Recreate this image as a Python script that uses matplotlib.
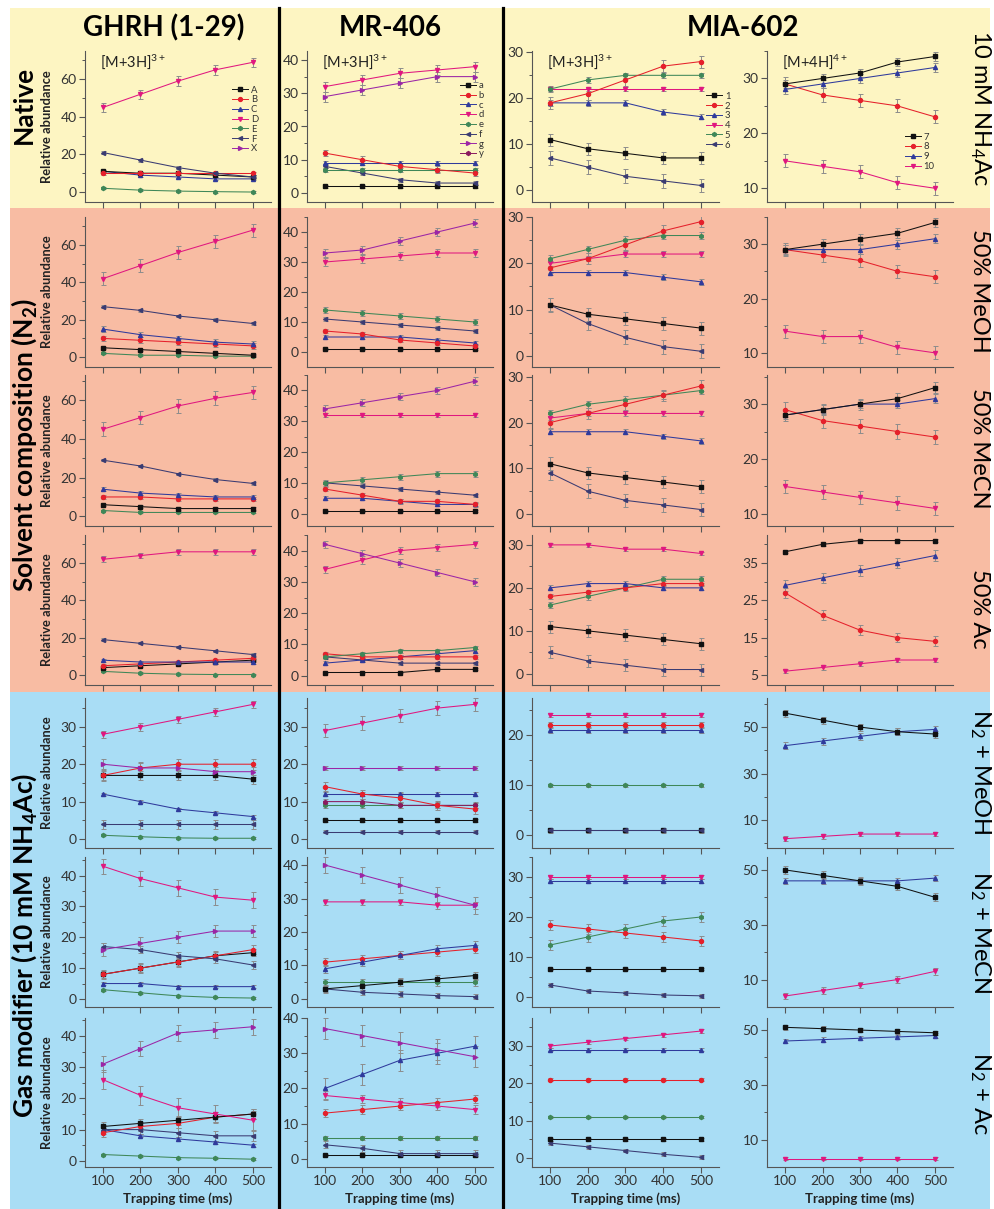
import matplotlib
matplotlib.use("Agg")
import numpy as np
import matplotlib.pyplot as plt
from matplotlib.patches import Rectangle
from matplotlib.lines import Line2D

plt.rcParams['font.family'] = ['Lato', 'DejaVu Sans']
plt.rcParams['mathtext.default'] = 'regular'

TIME_MS = [100, 200, 300, 400, 500]

# each entry: label -> (values at 100..500 ms, error bar half-width)
# ---- row 0: native (10 mM NH4Ac)
ghrh_native = {
    "E": ([2, 1, 0.5, 0.2, 0], 0.5),
    "C": ([11, 9, 8, 7, 7], 0.8),
    "A": ([11, 10, 10, 9, 8], 0.8),
    "B": ([10, 10, 10, 10, 10], 0.8),
    "F": ([21, 17, 13, 10, 8], 0.8),
    "D": ([45, 52, 59, 65, 69], 2.5),
}
mr_native = {
    "a": ([2, 2, 2, 2, 2], 0.4),
    "f": ([8, 6, 4, 3, 3], 0.6),
    "e": ([7, 7, 7, 7, 7], 0.6),
    "c": ([9, 9, 9, 9, 9], 0.6),
    "b": ([12, 10, 8, 7, 6], 1.0),
    "g": ([29, 31, 33, 35, 35], 1.5),
    "d": ([32, 34, 36, 37, 38], 1.5),
}
mia3_native = {
    "6": ([7, 5, 3, 2, 1], 1.5),
    "1": ([11, 9, 8, 7, 7], 1.3),
    "3": ([19, 19, 19, 17, 16], 0.6),
    "4": ([22, 22, 22, 22, 22], 0.5),
    "5": ([22, 24, 25, 25, 25], 0.6),
    "2": ([19, 21, 24, 27, 28], 1.3),
}
mia4_native = {
    "10": ([15, 14, 13, 11, 10], 1.2),
    "8": ([29, 27, 26, 25, 23], 1.2),
    "9": ([28, 29, 30, 31, 32], 0.8),
    "7": ([29, 30, 31, 33, 34], 0.8),
}
# ---- row 1: 50% MeOH
ghrh_meoh = {
    "E": ([2, 1, 1, 0.5, 0.5], 0.6),
    "A": ([5, 4, 3, 2, 1], 0.6),
    "B": ([10, 9, 8, 7, 6], 1.5),
    "C": ([15, 12, 10, 8, 7], 1.5),
    "F": ([27, 25, 22, 20, 18], 0.8),
    "D": ([42, 49, 56, 62, 68], 3.5),
}
mr_meoh = {
    "a": ([1, 1, 1, 1, 1], 0.3),
    "c": ([5, 5, 5, 4, 3], 0.8),
    "b": ([7, 6, 4, 3, 2], 0.8),
    "f": ([11, 10, 9, 8, 7], 0.6),
    "e": ([14, 13, 12, 11, 10], 1.0),
    "d": ([30, 31, 32, 33, 33], 1.2),
    "g": ([33, 34, 37, 40, 43], 1.2),
}
mia3_meoh = {
    "6": ([11, 7, 4, 2, 1], 1.5),
    "1": ([11, 9, 8, 7, 6], 1.4),
    "3": ([18, 18, 18, 17, 16], 0.6),
    "4": ([20, 21, 22, 22, 22], 0.6),
    "5": ([21, 23, 25, 26, 26], 0.8),
    "2": ([19, 21, 24, 27, 29], 1.2),
}
mia4_meoh = {
    "10": ([14, 13, 13, 11, 10], 1.2),
    "8": ([29, 28, 27, 25, 24], 1.2),
    "9": ([29, 29, 29, 30, 31], 0.8),
    "7": ([29, 30, 31, 32, 34], 0.9),
}
# ---- row 2: 50% MeCN
ghrh_mecn = {
    "E": ([3, 2, 2, 2, 2], 0.5),
    "A": ([6, 5, 4, 4, 4], 0.6),
    "B": ([10, 10, 9, 9, 9], 1.0),
    "C": ([14, 12, 11, 10, 10], 1.0),
    "F": ([29, 26, 22, 19, 17], 0.6),
    "D": ([45, 51, 57, 61, 64], 3.5),
}
mr_mecn = {
    "a": ([1, 1, 1, 1, 1], 0.3),
    "c": ([5, 5, 4, 3, 3], 0.6),
    "b": ([8, 6, 4, 4, 3], 0.8),
    "f": ([10, 9, 8, 7, 6], 0.5),
    "e": ([10, 11, 12, 13, 13], 1.0),
    "d": ([32, 32, 32, 32, 32], 0.6),
    "g": ([34, 36, 38, 40, 43], 1.2),
}
mia3_mecn = {
    "6": ([9, 5, 3, 2, 1], 1.5),
    "1": ([11, 9, 8, 7, 6], 1.4),
    "3": ([18, 18, 18, 17, 16], 0.6),
    "4": ([21, 22, 22, 22, 22], 0.5),
    "5": ([22, 24, 25, 26, 27], 0.8),
    "2": ([20, 22, 24, 26, 28], 1.2),
}
mia4_mecn = {
    "10": ([15, 14, 13, 12, 11], 1.2),
    "8": ([29, 27, 26, 25, 24], 1.3),
    "9": ([28, 29, 30, 30, 31], 0.8),
    "7": ([28, 29, 30, 31, 33], 1.0),
}
# ---- row 3: 50% Ac
ghrh_ac = {
    "E": ([2, 1, 0.5, 0.3, 0.3], 0.4),
    "A": ([4, 5, 6, 7, 8], 0.8),
    "B": ([5, 6, 7, 8, 9], 0.8),
    "C": ([8, 7, 7, 7, 7], 0.8),
    "F": ([19, 17, 15, 13, 11], 0.6),
    "D": ([62, 64, 66, 66, 66], 1.5),
}
mr_ac = {
    "a": ([1, 1, 1, 2, 2], 0.3),
    "f": ([6, 5, 4, 4, 4], 0.5),
    "c": ([4, 5, 6, 7, 8], 0.6),
    "b": ([7, 6, 6, 6, 6], 0.6),
    "e": ([6, 7, 8, 8, 9], 0.6),
    "d": ([34, 37, 40, 41, 42], 1.2),
    "g": ([42, 39, 36, 33, 30], 1.2),
}
mia3_ac = {
    "6": ([5, 3, 2, 1, 1], 1.4),
    "1": ([11, 10, 9, 8, 7], 1.4),
    "5": ([16, 18, 20, 22, 22], 0.8),
    "2": ([18, 19, 20, 21, 21], 0.6),
    "3": ([20, 21, 21, 20, 20], 0.6),
    "4": ([30, 30, 29, 29, 28], 0.4),
}
mia4_ac = {
    "10": ([6, 7, 8, 9, 9], 0.6),
    "8": ([27, 21, 17, 15, 14], 1.3),
    "9": ([29, 31, 33, 35, 37], 1.4),
    "7": ([38, 40, 41, 41, 41], 0.4),
}
# ---- row 4: N2 + MeOH
ghrh_n2meoh = {
    "E": ([1, 0.6, 0.3, 0.2, 0.2], 0.3),
    "F": ([4, 4, 4, 4, 4], 1.2),
    "C": ([12, 10, 8, 7, 6], 0.4),
    "A": ([17, 17, 17, 17, 16], 1.2),
    "B": ([17, 19, 20, 20, 20], 1.5),
    "X": ([20, 19, 19, 18, 18], 1.3),
    "D": ([28, 30, 32, 34, 36], 1.0),
}
mr_n2meoh = {
    "f": ([2, 2, 2, 2, 2], 0.4),
    "a": ([5, 5, 5, 5, 5], 0.4),
    "e": ([9, 9, 9, 9, 9], 0.6),
    "y": ([10, 10, 9, 9, 9], 0.8),
    "c": ([12, 12, 12, 12, 12], 0.5),
    "b": ([14, 12, 11, 9, 8], 1.2),
    "g": ([19, 19, 19, 19, 19], 0.5),
    "d": ([29, 31, 33, 35, 36], 1.8),
}
mia3_n2meoh = {
    "1": ([1, 1, 1, 1, 1], 0.3),
    "6": ([1, 1, 1, 1, 1], 0.5),
    "5": ([10, 10, 10, 10, 10], 0.3),
    "3": ([21, 21, 21, 21, 21], 0.6),
    "2": ([22, 22, 22, 22, 22], 0.6),
    "4": ([24, 24, 24, 24, 24], 0.4),
}
mia4_n2meoh = {
    "10": ([2, 3, 4, 4, 4], 1.0),
    "9": ([42, 44, 46, 48, 49], 1.5),
    "7": ([56, 53, 50, 48, 47], 1.5),
}
# ---- row 5: N2 + MeCN
ghrh_n2mecn = {
    "E": ([3, 2, 1, 0.5, 0.3], 0.3),
    "C": ([5, 5, 4, 4, 4], 0.4),
    "A": ([8, 10, 12, 14, 15], 1.2),
    "B": ([8, 10, 12, 14, 16], 1.5),
    "F": ([17, 16, 14, 13, 11], 1.2),
    "X": ([16, 18, 20, 22, 22], 2.0),
    "D": ([43, 39, 36, 33, 32], 2.5),
}
mr_n2mecn = {
    "f": ([3, 2, 1.5, 1, 0.7], 0.8),
    "e": ([5, 5, 5, 5, 5], 1.0),
    "a": ([3, 4, 5, 6, 7], 1.2),
    "b": ([11, 12, 13, 14, 15], 1.2),
    "c": ([9, 11, 13, 15, 16], 1.2),
    "d": ([29, 29, 29, 28, 28], 1.0),
    "g": ([40, 37, 34, 31, 28], 2.5),
}
mia3_n2mecn = {
    "6": ([3, 1.5, 1, 0.5, 0.3], 0.5),
    "1": ([7, 7, 7, 7, 7], 0.3),
    "5": ([13, 15, 17, 19, 20], 1.2),
    "2": ([18, 17, 16, 15, 14], 1.2),
    "3": ([29, 29, 29, 29, 29], 0.5),
    "4": ([30, 30, 30, 30, 30], 0.4),
}
mia4_n2mecn = {
    "10": ([4, 6, 8, 10, 13], 1.2),
    "9": ([46, 46, 46, 46, 47], 1.0),
    "7": ([50, 48, 46, 44, 40], 1.5),
}
# ---- row 6: N2 + Ac
ghrh_n2ac = {
    "E": ([2, 1.5, 1, 0.8, 0.5], 0.3),
    "C": ([10, 8, 7, 6, 5], 0.5),
    "F": ([10, 10, 9, 8, 8], 1.5),
    "B": ([9, 11, 12, 14, 15], 1.5),
    "A": ([11, 12, 13, 14, 15], 1.5),
    "D": ([26, 21, 17, 15, 13], 3.0),
    "X": ([31, 36, 41, 42, 43], 2.5),
}
mr_n2ac = {
    "a": ([1, 1, 1, 1, 1], 0.3),
    "f": ([4, 3, 1.5, 1.5, 1.5], 1.0),
    "e": ([6, 6, 6, 6, 6], 0.5),
    "b": ([13, 14, 15, 16, 17], 1.2),
    "d": ([18, 17, 16, 15, 14], 1.2),
    "c": ([20, 24, 28, 30, 32], 3.0),
    "g": ([37, 35, 33, 31, 29], 3.0),
}
mia3_n2ac = {
    "6": ([4, 3, 2, 1, 0.2], 0.5),
    "1": ([5, 5, 5, 5, 5], 0.4),
    "5": ([11, 11, 11, 11, 11], 0.3),
    "2": ([21, 21, 21, 21, 21], 0.3),
    "3": ([29, 29, 29, 29, 29], 0.4),
    "4": ([30, 31, 32, 33, 34], 0.5),
}
mia4_n2ac = {
    "10": ([3, 3, 3, 3, 3], 0.6),
    "9": ([46, 46.5, 47, 47.5, 48], 0.8),
    "7": ([51, 50.5, 50, 49.5, 49], 0.8),
}

col_titles = ["GHRH (1-29)", "MR-406", "MIA-602"]
row_titles = ["10 mM NH$_4$Ac", "50% MeOH", "50% MeCN", "50% Ac",
              "N$_2$ + MeOH", "N$_2$ + MeCN", "N$_2$ + Ac"]
group_titles = ["Native", "Solvent composition (N$_2$)", "Gas modifier (10 mM NH$_4$Ac)"]
ghrh_legend = ["A", "B", "C", "D", "E", "F", "X"]
mr_legend = ["a", "b", "c", "d", "e", "f", "g", "y"]
mia3_legend = ["1", "2", "3", "4", "5", "6"]
mia4_legend = ["7", "8", "9", "10"]

grid = [
    [ghrh_native, mr_native, mia3_native, mia4_native],
    [ghrh_meoh, mr_meoh, mia3_meoh, mia4_meoh],
    [ghrh_mecn, mr_mecn, mia3_mecn, mia4_mecn],
    [ghrh_ac, mr_ac, mia3_ac, mia4_ac],
    [ghrh_n2meoh, mr_n2meoh, mia3_n2meoh, mia4_n2meoh],
    [ghrh_n2mecn, mr_n2mecn, mia3_n2mecn, mia4_n2mecn],
    [ghrh_n2ac, mr_n2ac, mia3_n2ac, mia4_n2ac],
]

BLACK, RED, BLUE, MAGENTA = "#111111", "#e5202b", "#2f3a9c", "#e0177f"
GREEN, NAVY, PURPLE, PLUM = "#3f8758", "#3a3b72", "#9b25a6", "#8a1a5e"
STYLE = {}
for keys, style in [(("A", "a", "1", "7"), (BLACK, "s")),
                    (("B", "b", "2", "8"), (RED, "o")),
                    (("C", "c", "3", "9"), (BLUE, "^")),
                    (("D", "d", "4", "10"), (MAGENTA, "v")),
                    (("E", "e", "5"), (GREEN, "h")),
                    (("F", "f", "6"), (NAVY, "<")),
                    (("X", "g"), (PURPLE, ">")),
                    (("y",), (PLUM, "h"))]:
    for k in keys:
        STYLE[k] = style

W, H = 995, 1209
fig = plt.figure(figsize=(W / 100, H / 100), dpi=100)


def px_rect(x0, y0, x1, y1):
    return [x0 / W, 1 - y1 / H, (x1 - x0) / W, (y1 - y0) / H]


# coloured bands + dividers
for y0, y1, c in [(8, 208, "#fdf5c2"), (208, 692, "#f8bca3"), (692, 1209, "#a9ddf5")]:
    l, b, w, h = px_rect(10, y0, 990, y1)
    fig.add_artist(Rectangle((l, b), w, h, transform=fig.transFigure,
                             facecolor=c, edgecolor="none", zorder=-10))
for x in (279, 503):
    fig.add_artist(Line2D([x / W, x / W], [1 - 8 / H, 0], transform=fig.transFigure,
                          color="black", lw=2.3, zorder=-5))

col_x = [(85, 271), (307, 493), (532, 719), (767, 953)]
row_y = [(51, 202), (217, 367), (375, 526), (535, 685), (698, 848), (857, 1007), (1018, 1167)]
ylims = [
    [(-5.3, 75), (-2.7, 42.7), (-2.6, 30.3), (7.5, 35)],
    [(-5.3, 75), (-5, 45), (-2.4, 30), (7.4, 35)],
    [(-5, 73), (-4, 45), (-2.6, 30.4), (7.8, 35.3)],
    [(-5.3, 75), (-3, 45), (-2.6, 32.3), (2.3, 42.5)],
    [(-2.4, 37.7), (-2.4, 37.7), (-2.6, 27.4), (-2, 62.5)],
    [(-2.6, 46), (-2.4, 42.4), (-2.5, 35), (0, 54.7)],
    [(-2, 45.8), (-2.3, 40), (-2.4, 37.5), (0, 54.4)],
]


def major_spec(r, c):
    if c == 0:
        return (0, 20) if r < 4 else (0, 10)
    if c == 3:
        if r < 3:
            return (10, 10)
        if r == 3:
            return (5, 10)
        return (10, 20)
    return (0, 10)


def add_legend(ax, keys, anchor):
    handles = [Line2D([], [], color=STYLE[k][0], marker=STYLE[k][1], lw=0.7, ms=2.8)
               for k in keys]
    leg = ax.legend(handles, keys, loc="upper left", bbox_to_anchor=anchor, frameon=False,
                    fontsize=6.8, handlelength=1.7, handletextpad=0.3, labelspacing=0.08,
                    borderpad=0, borderaxespad=0)
    for t in leg.get_texts():
        t.set_color("#333333")


for r in range(7):
    for c in range(4):
        ax = fig.add_axes(px_rect(col_x[c][0], row_y[r][0], col_x[c][1], row_y[r][1]))
        ax.set_facecolor("none")
        for key, (vals, err) in grid[r][c].items():
            color, marker = STYLE[key]
            ax.errorbar(TIME_MS, vals, yerr=err, fmt="none", ecolor="#8c8c8c",
                        elinewidth=0.7, capsize=1.8, capthick=0.7, zorder=2)
            ax.plot(TIME_MS, vals, color=color, lw=0.75, marker=marker, ms=2.9,
                    mec=color, mfc=color, zorder=3)
        ax.set_xlim(52, 548)
        lo, hi = ylims[r][c]
        ax.set_xticks(TIME_MS)
        start, step = major_spec(r, c)
        ax.set_yticks(np.arange(start, hi + 0.01, step))
        minor = np.arange(start - step / 2, hi + 0.01, step)
        ax.set_yticks(minor[minor > lo], minor=True)
        ax.set_ylim(lo, hi)
        for s in ("top", "right"):
            ax.spines[s].set_visible(False)
        for s in ("left", "bottom"):
            ax.spines[s].set_color("#555555")
            ax.spines[s].set_linewidth(0.8)
        ax.tick_params(which="major", direction="out", length=4, width=0.8,
                       color="#555555", labelsize=10, labelcolor="#333333", pad=2)
        ax.tick_params(which="minor", direction="out", length=2.5, width=0.7, color="#555555")
        ax.tick_params(axis="x", which="minor", bottom=False)
        if r < 6:
            ax.tick_params(axis="x", labelbottom=False)
        else:
            ax.set_xlabel("Trapping time (ms)", fontsize=9.5, fontweight="bold", color="#222222")
            ax.xaxis.set_label_coords(0.5, -0.17)
        if c == 0:
            ax.set_ylabel("Relative abundance", fontsize=9.3, fontweight="bold", color="#222222")
            ax.yaxis.set_label_coords(-0.17, 0.5)
        if r == 0:
            ion = "[M+4H]$^{4+}$" if c == 3 else "[M+3H]$^{3+}$"
            ax.text(0.08, 0.93, ion, transform=ax.transAxes, fontsize=10.5,
                    color="#222222", va="center", ha="left")
            if c == 0:
                add_legend(ax, ghrh_legend, (0.79, 0.77))
            elif c == 1:
                add_legend(ax, mr_legend, (0.82, 0.80))
            elif c == 2:
                add_legend(ax, mia3_legend, (0.93, 0.73))
            else:
                add_legend(ax, mia4_legend, (0.74, 0.46))

# headers
for x, t in zip((164, 390, 743), col_titles):
    fig.text(x / W, 1 - 28 / H, t, fontsize=20, fontweight="bold", ha="center", va="center")
for y, t in zip((105, 445, 945), group_titles):
    fig.text(24 / W, 1 - y / H, t, fontsize=19, fontweight="bold", rotation=90,
             ha="center", va="center")
for y, t in zip((108, 291, 448, 609, 772, 932, 1093), row_titles):
    fig.text(980 / W, 1 - y / H, t, fontsize=17, rotation=270, ha="center", va="center")

fig.savefig("out.png", dpi=100, facecolor="white")
